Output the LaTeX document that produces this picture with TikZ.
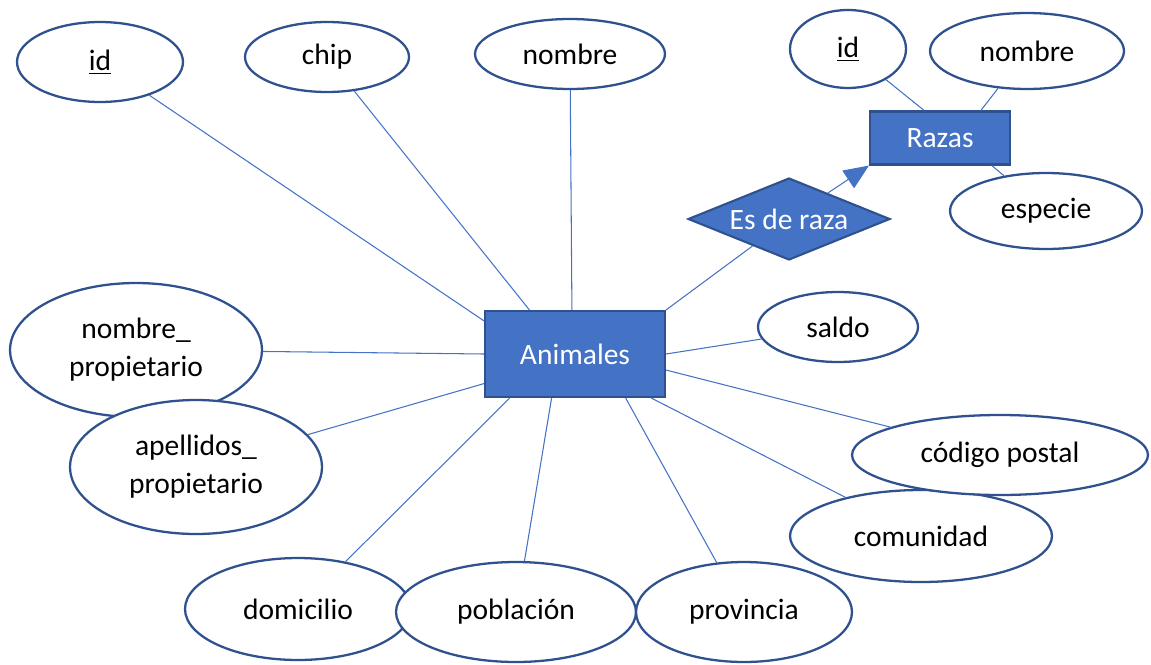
\documentclass[tikz,border=0pt]{standalone}
\usepackage{fontspec}
\setmainfont{Carlito}
\usetikzlibrary{shapes.geometric,arrows.meta}
\definecolor{fillblue}{HTML}{4472C4}
\definecolor{edgeblue}{HTML}{2F528F}
\tikzstyle{entity} = [rectangle, draw = edgeblue, line width = 1.2pt, fill = fillblue, text = white, inner sep = 0pt]
\tikzstyle{attrib} = [ellipse, draw = edgeblue, line width = 1.3pt, fill = white, inner sep = 0pt, align = center]
\tikzstyle{relation} = [diamond, draw = edgeblue, line width = 1.2pt, fill = fillblue, text = white, inner sep = 0pt, shape aspect = 2.5]
\tikzstyle{conn} = [draw = fillblue, line width = 0.6pt]
\tikzstyle{arrow} = [conn, -{Triangle[length=0.5cm,width=0.42cm]}]

\begin{document}
\begin{tikzpicture}[x = 0.02cm, y = 0.02cm, font = \fontsize{16.8}{21.5}\selectfont]
\useasboundingbox (0,0) rectangle (1151,664);

% Animales
\node(animales) [entity, minimum width = 3.6cm, minimum height = 1.72cm] at (575,310) {Animales};
\node(aid) [attrib, minimum width = 3.32cm, minimum height = 1.6cm] at (100,602) {\underline{id}};
\node(chip) [attrib, minimum width = 3.28cm, minimum height = 1.4cm] at (327,607) {chip};
\node(nombre) [attrib, minimum width = 3.8cm, minimum height = 1.4cm] at (570,610) {nombre};
\node(saldo) [attrib, minimum width = 3.2cm, minimum height = 1.4cm] at (838,337) {saldo};
\node(nomprop) [attrib, minimum width = 5.04cm, minimum height = 2.68cm] at (136,314) {nombre\_\\propietario};
\node(apeprop) [attrib, minimum width = 5.04cm, minimum height = 2.68cm] at (196,197) {apellidos\_\\propietario};
\node(domicilio) [attrib, minimum width = 4.52cm, minimum height = 2.04cm] at (298,55) {domicilio};
\node(poblacion) [attrib, minimum width = 4.8cm, minimum height = 2cm] at (516,52) {población};
\node(provincia) [attrib, minimum width = 4.32cm, minimum height = 2cm] at (744,52) {provincia};
\node(comunidad) [attrib, minimum width = 5.24cm, minimum height = 1.84cm] at (921,128) {comunidad};
\node(cpostal) [attrib, minimum width = 5.92cm, minimum height = 1.6cm] at (1000,209) {código postal};

% Razas
\node(esraza) [relation, minimum width = 4.04cm, minimum height = 1.64cm] at (789,445) {Es de raza};
\node(razas) [entity, minimum width = 2.8cm, minimum height = 1.06cm] at (940,526) {Razas};
\node(rid) [attrib, minimum width = 2.32cm, minimum height = 1.56cm] at (848,615) {\underline{id}};
\node(rnombre) [attrib, minimum width = 3.88cm, minimum height = 1.52cm] at (1027,613) {nombre};
\node(especie) [attrib, minimum width = 3.84cm, minimum height = 1.52cm] at (1046,453) {especie};

\draw [conn] (animales.160) -- (aid);
\draw [conn] (animales.136) -- (chip);
\draw [conn] (animales.94) -- (nombre);
\draw [conn] (animales.0) -- (saldo);
\draw [conn] (animales.-10) -- (cpostal);
\draw [conn] (animales.-30) -- (comunidad);
\draw [conn] (animales.-41) -- (provincia);
\draw [conn] (animales.-118) -- (poblacion);
\draw [conn] (animales.-146) -- (domicilio);
\draw [conn] (animales.198) -- (apeprop);
\draw [conn] (animales.180) -- (nomprop);

\draw [conn] (animales.north east) -- (esraza);
\draw [arrow] (esraza) -- (razas.south west);

\draw [conn] (razas.120) -- (rid);
\draw [conn] (razas.34) -- (rnombre);
\draw [conn] (razas.-28) -- (especie);

\end{tikzpicture}
\end{document}
